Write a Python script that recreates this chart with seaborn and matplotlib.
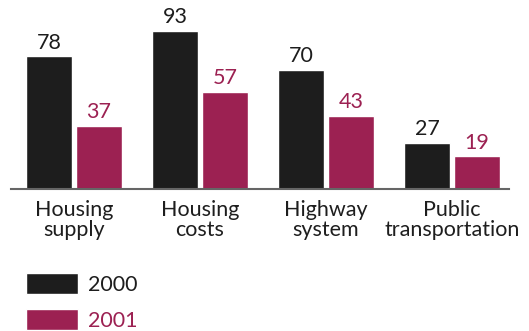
import matplotlib
matplotlib.use("Agg")
import matplotlib.pyplot as plt
import seaborn as sns
import pandas as pd

categories = ["Housing\nsupply", "Housing\ncosts", "Highway\nsystem", "Public\ntransportation"]
years = ["2000", "2001"]
values_2000 = [78, 93, 70, 27]
values_2001 = [37, 57, 43, 19]

colors = {"2000": "#1d1d1d", "2001": "#9c2152"}

df = pd.DataFrame({
    "category": categories * 2,
    "year": [years[0]] * len(categories) + [years[1]] * len(categories),
    "value": values_2000 + values_2001,
})

sns.set_theme(style="white")
plt.rcParams["font.family"] = ["Lato", "DejaVu Sans"]

FS = 15.5
W, H = 529, 331
fig = plt.figure(figsize=(W / 100, H / 100), dpi=100)
ax = fig.add_axes([11 / W, 1 - 188.7 / H, 498 / W, 183.7 / H])

sns.barplot(data=df, x="category", y="value", hue="year", palette=colors,
            width=0.794, gap=0.08, saturation=1, ax=ax, legend=True)

ax.set_xlim(-0.5, 3.452)
ax.set_ylim(0, 108)

for cont, yr in zip(ax.containers, years):
    ax.bar_label(cont, labels=[str(int(v)) for v in cont.datavalues],
                 padding=2.5, color=colors[yr], fontsize=FS)

ax.set_xlabel("")
ax.set_ylabel("")
ax.set_yticks([])
ax.tick_params(axis="x", length=0, pad=8, labelsize=FS, labelcolor="#1e1e1e")
for lbl in ax.get_xticklabels():
    lbl.set_linespacing(1.0)
for s in ["left", "right", "top"]:
    ax.spines[s].set_visible(False)
ax.spines["bottom"].set_color("#666666")
ax.spines["bottom"].set_linewidth(1.5)

handles, labels = ax.get_legend_handles_labels()
ax.get_legend().remove()
fig.legend(handles, labels, loc="upper left",
           bbox_to_anchor=(26 / W, 1 - 273 / H), frameon=False,
           fontsize=FS, handlelength=2.4, handleheight=1.15,
           handletextpad=0.5, labelspacing=0.65, borderpad=0, borderaxespad=0,
           labelcolor=[colors[y] for y in years])

fig.savefig("out.png", dpi=100)
